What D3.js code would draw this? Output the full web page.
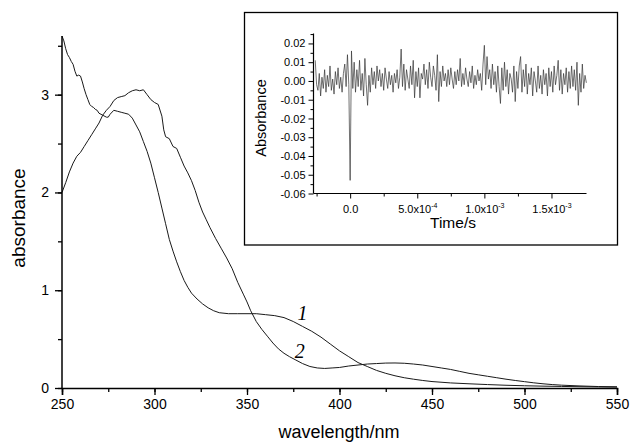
<!DOCTYPE html>
<html>
<head>
<meta charset="utf-8">
<script src="https://cdn.jsdelivr.net/npm/d3@7"></script>
<style>
  body { margin: 0; background: #fff; }
  svg { display: block; }
  text { font-family: "Liberation Sans", Arial, sans-serif; fill: #000; }
  .num { font-size: 14px; }
  .inum { font-size: 11px; }
</style>
</head>
<body>
<div id="chart"></div>
<script>
// curve 1
const wl1 = [250,251,252,253,254,255,256,257,258,259,260,261,262,263,264,265,266,267,268,269,270,272,274,275,276,278,280,282,284,286,288,290,292,294,296,298,300,302,304,306,308,310,312,314,316,318,320,323,326,329,332,335,340,345,350,355,360,365,370,375,380,385,390,395,400,405,410,415,420,425,430,435,440,445,450,460,470,480,490,500,510,520,530,540,550];
const abs1 = [3.60,3.55,3.47,3.41,3.38,3.34,3.31,3.24,3.19,3.20,3.19,3.13,3.06,3.00,2.95,2.90,2.88,2.87,2.85,2.84,2.81,2.79,2.77,2.77,2.80,2.84,2.83,2.82,2.81,2.80,2.76,2.69,2.62,2.52,2.42,2.30,2.15,2.00,1.84,1.68,1.52,1.40,1.29,1.19,1.10,1.03,0.97,0.91,0.86,0.82,0.79,0.77,0.76,0.76,0.76,0.76,0.75,0.74,0.72,0.68,0.63,0.58,0.52,0.45,0.38,0.32,0.26,0.22,0.18,0.15,0.125,0.105,0.09,0.077,0.066,0.052,0.043,0.035,0.028,0.023,0.019,0.016,0.013,0.011,0.009];

// curve 2
const wl2 = [250,252,254,256,258,260,262,264,266,268,270,272,274,276,278,280,282,284,286,288,290,292,294,296,298,300,302,304,305,306,308,310,312,314,316,318,320,322,324,326,328,330,333,336,339,342,345,348,350,352,355,358,361,364,367,370,373,376,380,384,388,392,396,400,405,410,415,420,425,430,435,440,445,450,455,460,465,470,475,480,485,490,495,500,505,510,515,520,530,540,550];
const abs2 = [2.00,2.10,2.21,2.30,2.37,2.41,2.47,2.53,2.59,2.65,2.71,2.79,2.84,2.88,2.94,2.97,2.98,2.99,3.02,3.04,3.05,3.04,3.05,3.00,2.95,2.92,2.90,2.78,2.64,2.57,2.55,2.47,2.45,2.36,2.27,2.20,2.12,2.02,1.90,1.80,1.72,1.64,1.53,1.43,1.33,1.22,1.08,0.96,0.88,0.79,0.68,0.60,0.53,0.46,0.40,0.355,0.32,0.29,0.25,0.22,0.205,0.20,0.205,0.21,0.225,0.235,0.245,0.25,0.255,0.256,0.253,0.245,0.235,0.22,0.205,0.19,0.17,0.15,0.135,0.12,0.105,0.09,0.077,0.065,0.053,0.043,0.035,0.029,0.021,0.015,0.012];

const curveLabels = [
  { text: "1", wl: 380, abs: 0.77 },
  { text: "2", wl: 378.5, abs: 0.38 }
];

const xTicks = [250, 300, 350, 400, 450, 500, 550];
const yTicks = [0, 1, 2, 3];

// inset: transient absorbance, sampled every 10 us starting at -260 us
const insetT0 = -2.6e-4;
const insetDt = 1e-5;
const insetAbs = [
  0.011,-0.002,-0.005,0.004,-0.008,0.002,-0.004,0.006,-0.006,0.003,
  -0.003,0.008,-0.005,0.001,-0.007,0.005,-0.002,0.007,-0.004,0.002,
  -0.006,0.004,0.009,-0.003,0.014,-0.002,-0.053,0.016,-0.004,0.010,
  -0.006,0.006,-0.003,0.011,-0.005,0.004,-0.008,0.012,-0.002,-0.013,
  0.003,-0.006,0.007,-0.002,0.005,-0.004,0.008,0.000,0.006,-0.003,
  0.004,-0.005,0.007,0.001,-0.004,0.005,-0.002,0.003,-0.006,0.004,
  -0.001,0.006,-0.004,0.002,0.017,-0.003,0.009,-0.005,0.006,0.001,
  -0.004,0.008,-0.002,0.011,-0.009,0.005,-0.003,0.007,-0.009,0.004,
  0.001,0.009,-0.002,0.006,-0.004,0.010,0.002,-0.003,0.008,0.003,
  -0.005,0.014,-0.011,0.005,-0.003,0.008,0.000,0.004,-0.003,0.006,
  -0.002,0.007,0.001,-0.004,0.005,-0.002,0.006,0.000,0.012,-0.003,
  0.004,-0.002,0.007,0.001,-0.003,0.005,-0.001,0.008,-0.004,0.003,
  -0.002,0.006,0.000,0.004,-0.005,0.009,0.019,-0.002,0.013,0.001,
  0.006,-0.004,0.009,-0.002,0.005,-0.006,0.008,-0.003,-0.012,0.007,
  -0.005,0.010,-0.003,0.006,-0.007,0.004,0.001,-0.006,0.008,-0.011,
  0.005,-0.004,0.008,0.013,-0.006,0.006,-0.003,0.009,-0.007,0.004,
  -0.002,0.007,-0.008,0.005,0.000,-0.006,0.008,-0.004,0.003,-0.007,
  0.006,-0.002,0.004,-0.008,0.007,-0.003,0.005,-0.006,0.008,-0.002,
  0.003,0.011,-0.005,0.006,-0.007,0.004,-0.002,0.007,-0.006,0.005,
  -0.004,0.008,-0.003,0.006,-0.005,0.010,-0.013,0.004,-0.006,0.009,
  -0.004,0.003,-0.001
];
const insetXTicks = [0, 5e-4, 1e-3, 1.5e-3];
const insetXTickLabels = [["0.0", ""], ["5.0x10", "-4"], ["1.0x10", "-3"], ["1.5x10", "-3"]];
const insetYTicks = [0.02, 0.01, 0, -0.01, -0.02, -0.03, -0.04, -0.05, -0.06];
const insetYTickLabels = ["0.02", "0.01", "0.00", "-0.01", "-0.02", "-0.03", "-0.04", "-0.05", "-0.06"];

(function () {
  const width = 630, height = 443;
  const svg = d3.select("#chart").append("svg")
    .attr("width", width)
    .attr("height", height);

  // main plot
  const x = d3.scaleLinear().domain([250, 550]).range([62, 617]);
  const y = d3.scaleLinear().domain([0, 3.6]).range([388, 36]);

  const line = d3.line().x(d => x(d[0])).y(d => y(d[1]));
  const series = [d3.zip(wl1, abs1), d3.zip(wl2, abs2)];

  svg.selectAll("path.spec")
    .data(series)
    .join("path")
    .attr("class", "spec")
    .attr("d", line)
    .attr("fill", "none")
    .attr("stroke", "#1a1a1a")
    .attr("stroke-width", 1);

  const xAxis = svg.append("g").attr("transform", `translate(0,${y(0)})`);
  xAxis.call(d3.axisBottom(x).tickValues(d3.range(250, 551, 25)).tickSize(4).tickFormat(""));
  xAxis.call(g => g.selectAll(".tick line").attr("stroke-width", 1.3));
  const xMaj = svg.append("g").attr("transform", `translate(0,${y(0)})`)
    .call(d3.axisBottom(x).tickValues(xTicks).tickSize(7).tickPadding(4).tickFormat(d3.format("d")));
  xMaj.select(".domain").attr("stroke-width", 1.5);
  xMaj.selectAll(".tick line").attr("stroke-width", 1.3);
  xMaj.selectAll("text").attr("class", "num").attr("font-family", null).attr("font-size", null);

  const yAxis = svg.append("g").attr("transform", `translate(${x(250)},0)`);
  yAxis.call(d3.axisLeft(y).tickValues(d3.range(0, 3.51, 0.5)).tickSize(4).tickFormat(""));
  yAxis.select(".domain").remove();
  yAxis.selectAll(".tick line").attr("stroke-width", 1.3);
  const yMaj = svg.append("g").attr("transform", `translate(${x(250)},0)`)
    .call(d3.axisLeft(y).tickValues(yTicks).tickSize(7).tickPadding(6).tickFormat(d3.format("d")));
  yMaj.select(".domain").attr("stroke-width", 1.5).attr("d", `M0,${y(3.6)}V${y(0)}`);
  yMaj.selectAll(".tick line").attr("stroke-width", 1.3);
  yMaj.selectAll("text").attr("class", "num").attr("font-family", null).attr("font-size", null);

  svg.append("text")
    .attr("x", 339).attr("y", 438)
    .attr("text-anchor", "middle")
    .attr("font-size", 18)
    .text("wavelength/nm");

  svg.append("text")
    .attr("transform", "translate(25,218) rotate(-90)")
    .attr("text-anchor", "middle")
    .attr("font-size", 19)
    .text("absorbance");

  svg.selectAll("text.clabel")
    .data(curveLabels)
    .join("text")
    .attr("class", "clabel")
    .attr("x", d => x(d.wl))
    .attr("y", d => y(d.abs))
    .attr("dy", "0.35em")
    .attr("text-anchor", "middle")
    .style("font-family", "'Liberation Serif', 'Times New Roman', serif")
    .style("font-style", "italic")
    .attr("font-size", 20)
    .text(d => d.text);

  // inset
  svg.append("rect")
    .attr("x", 244.5).attr("y", 12.5)
    .attr("width", 373).attr("height", 232.5)
    .attr("fill", "#fff")
    .attr("stroke", "#000")
    .attr("stroke-width", 1.3);

  const ix = d3.scaleLinear().domain([-2.73e-4, 1.761e-3]).range([313.5, 586.5]);
  const iy = d3.scaleLinear().domain([-0.06, 0.0253]).range([193.5, 33.5]);

  const insetLine = d3.line()
    .x((d, i) => ix(insetT0 + i * insetDt))
    .y(d => iy(d));

  svg.append("path")
    .datum(insetAbs)
    .attr("d", insetLine)
    .attr("fill", "none")
    .attr("stroke", "#333")
    .attr("stroke-width", 0.7);

  const ixMinor = svg.append("g").attr("transform", `translate(0,${iy(-0.06)})`)
    .call(d3.axisBottom(ix).tickValues([-2.5e-4, 2.5e-4, 7.5e-4, 1.25e-3]).tickSize(3).tickFormat(""));
  ixMinor.select(".domain").remove();

  const ixAxis = svg.append("g").attr("transform", `translate(0,${iy(-0.06)})`)
    .call(d3.axisBottom(ix).tickValues(insetXTicks).tickSize(5).tickPadding(6).tickFormat(""));
  ixAxis.select(".domain").attr("stroke-width", 1.2).attr("d", `M${ix.range()[0]},0H${ix.range()[1]}`);
  ixAxis.selectAll(".tick").each(function (d, i) {
    const t = d3.select(this).append("text")
      .attr("class", "inum")
      .attr("y", 19)
      .attr("text-anchor", "middle")
      .text(insetXTickLabels[i][0]);
    if (insetXTickLabels[i][1]) {
      t.append("tspan").attr("dy", -5).attr("font-size", 7).text(insetXTickLabels[i][1]);
    }
  });

  const iyMinor = svg.append("g").attr("transform", `translate(${ix.range()[0]},0)`)
    .call(d3.axisLeft(iy).tickValues(d3.range(-0.055, 0.0251, 0.01)).tickSize(3).tickFormat(""));
  iyMinor.select(".domain").remove();

  const iyAxis = svg.append("g").attr("transform", `translate(${ix.range()[0]},0)`)
    .call(d3.axisLeft(iy).tickValues(insetYTicks).tickSize(5).tickPadding(3)
      .tickFormat((d, i) => insetYTickLabels[i]));
  iyAxis.select(".domain").attr("stroke-width", 1.2).attr("d", `M0,${iy.range()[1]}V${iy.range()[0]}`);
  iyAxis.selectAll("text").attr("class", "inum").attr("font-family", null).attr("font-size", null);

  svg.append("text")
    .attr("x", 453).attr("y", 228)
    .attr("text-anchor", "middle")
    .attr("font-size", 15.5)
    .text("Time/s");

  svg.append("text")
    .attr("transform", "translate(266,118) rotate(-90)")
    .attr("text-anchor", "middle")
    .attr("font-size", 14.5)
    .text("Absorbance");
})();
</script>
</body>
</html>
